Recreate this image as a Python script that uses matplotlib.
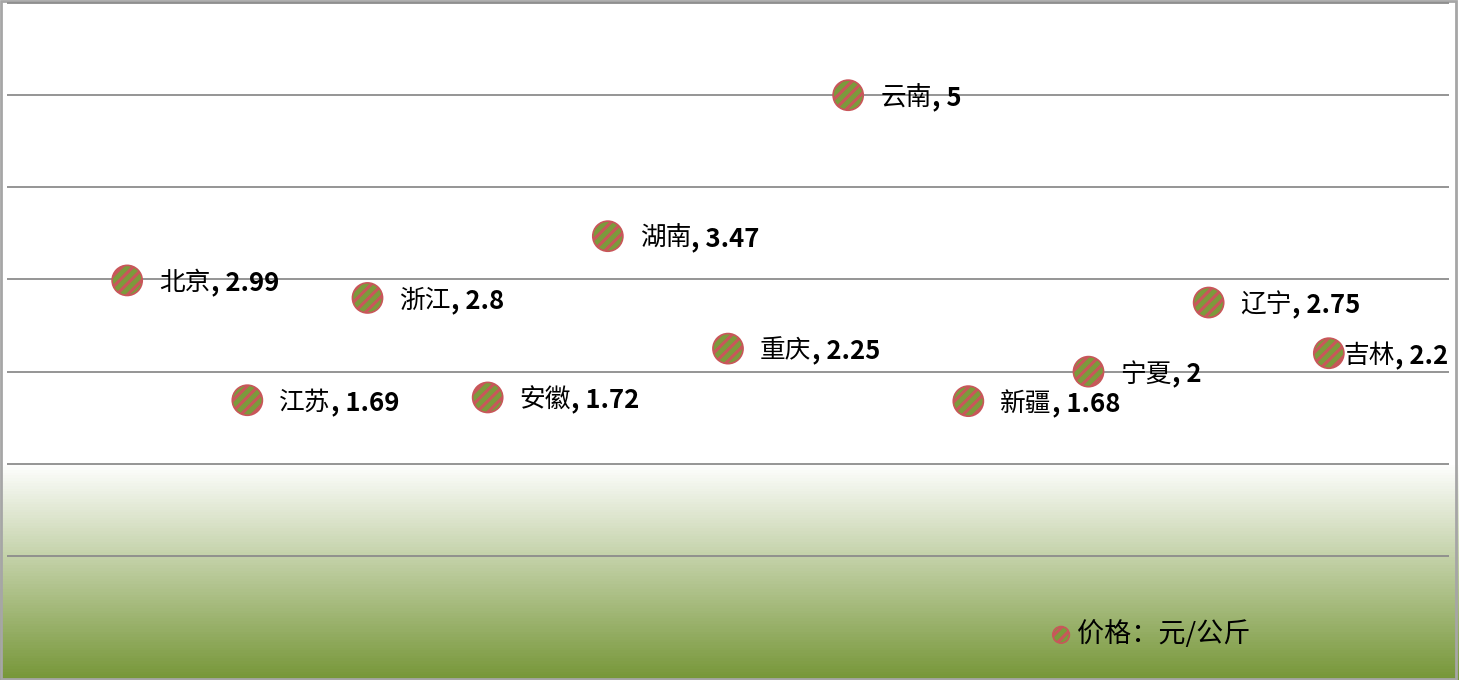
import numpy as np
import matplotlib.pyplot as plt
from matplotlib.colors import LinearSegmentedColormap
from matplotlib.patches import Rectangle

# data
provinces = ['北京', '江苏', '浙江', '安徽', '湖南', '重庆', '云南', '新疆', '宁夏', '辽宁', '吉林']
prices = [2.99, 1.69, 2.8, 1.72, 3.47, 2.25, 5, 1.68, 2, 2.75, 2.2]
series_name = '价格：元/公斤'

plt.rcParams['font.family'] = ['Noto Sans CJK SC', 'DejaVu Sans']
plt.rcParams['hatch.color'] = '#c9565a'
plt.rcParams['hatch.linewidth'] = 2.2


def main():
    fig = plt.figure(figsize=(14.59, 6.80), dpi=100)

    # background: white top, olive gradient toward the bottom
    bg = fig.add_axes([0, 0, 1, 1], zorder=0)
    bg.set_axis_off()
    cmap = LinearSegmentedColormap.from_list(
        'bg', [(0, '#779739'), (216 / 680, '#ffffff'), (1, '#ffffff')])
    grad = np.linspace(0, 1, 680).reshape(-1, 1)
    bg.imshow(grad, aspect='auto', cmap=cmap, origin='lower',
              extent=[0, 1, 0, 1], interpolation='bilinear')
    bg.set_xlim(0, 1)
    bg.set_ylim(0, 1)
    bg.add_patch(Rectangle((0.001, 0.002), 0.997, 0.996, fill=False,
                           edgecolor='#a6a6a6', linewidth=2))

    ax = fig.add_axes([7 / 1459, 122.2 / 680, 1442 / 1459, 556.6 / 680], zorder=1)
    ax.patch.set_alpha(0)
    ax.set_xlim(0, 12)
    ax.set_ylim(-0.02, 6.02)
    for s in ax.spines.values():
        s.set_visible(False)
    ax.set_xticks([])
    ax.set_yticks(range(0, 7))
    ax.tick_params(left=False, labelleft=False)
    ax.grid(axis='y', color='#8c8c8c', linewidth=1.3)
    ax.set_axisbelow(True)

    x = np.arange(1, len(prices) + 1)
    sc = ax.scatter(x, prices, s=470, facecolor='#7c9a3c', edgecolor='#c9565a',
                    linewidth=1.2, hatch='///', label=series_name, zorder=3)

    for i, (name, val) in enumerate(zip(provinces, prices)):
        dx = 15 if i == len(prices) - 1 else 32
        t1 = ax.annotate(name, (x[i], val), xytext=(dx, -3), textcoords='offset pixels',
                         ha='left', va='center', fontsize=18.5, zorder=4)
        ax.annotate(', %g' % val, xy=(1, 0), xycoords=t1, ha='left', va='bottom',
                    fontsize=18.5, fontweight='bold', zorder=4)

    fig.legend(handles=[sc], loc='center left', bbox_to_anchor=(1034 / 1459, 1 - 634 / 680),
               frameon=False, fontsize=19.5, markerscale=0.55, handletextpad=0.1,
               handlelength=1.0, borderpad=0)

    fig.savefig('out.png', dpi=100)


if __name__ == '__main__':
    main()
